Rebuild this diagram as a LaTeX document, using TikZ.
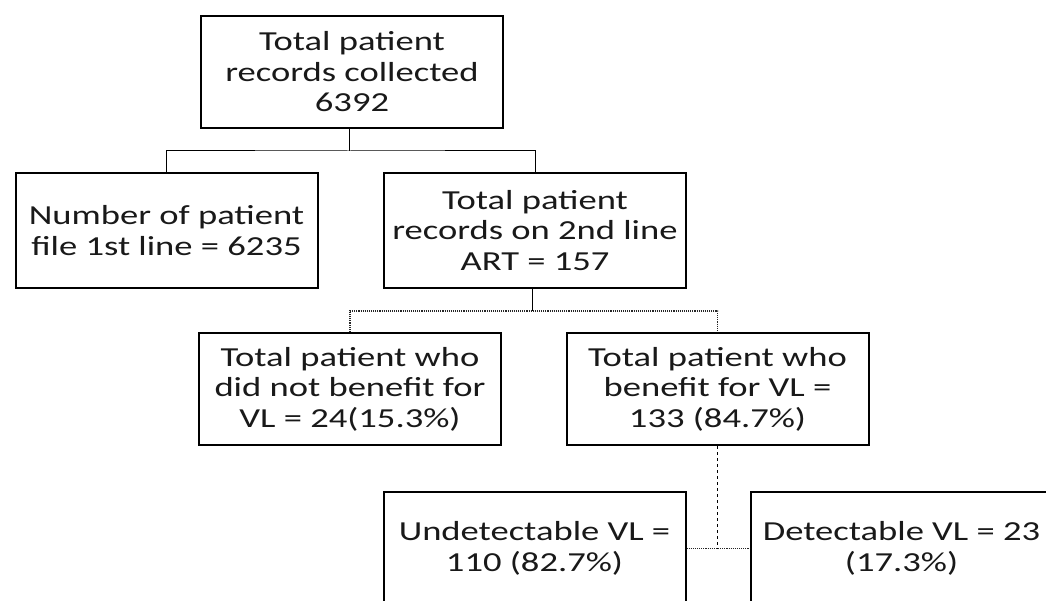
\documentclass[tikz,border=0pt]{standalone}
\usepackage{fontspec}
\setmainfont[FakeStretch=1.33]{Carlito}
\begin{document}
\begin{tikzpicture}[x=1pt,y=-1pt,
  boxnode/.style={draw=black, line width=2pt, fill=white, minimum width=302pt, minimum height=112pt,
    inner sep=0pt, align=center, font=\fontsize{27.5}{30.5}\selectfont, text=black!90},
  conn/.style={draw=black, line width=1pt},
  dotconn/.style={draw=black!85, line width=1.1pt, densely dotted},
  dashconn/.style={draw=black, line width=1pt, dashed}]
\clip (0,0) rectangle (1046,601);
\fill[white] (0,0) rectangle (1046,601);

\node[boxnode] (A) at (352,72) {Total patient\\records collected\\6392};
\node[boxnode, minimum height=115pt] (B) at (166.5,230.5) {Number of patient\\file 1st line = 6235};
\node[boxnode, minimum height=115pt] (C) at (535,230.5) {Total patient\\records on 2nd line\\ART = 157};
\node[boxnode] (D) at (350,389) {Total patient who\\did not benefit for\\VL = 24(15.3\%)};
\node[boxnode] (E) at (717.5,389) {Total patient who\\benefit for VL =\\133 (84.7\%)};
\node[boxnode, minimum height=113pt] (F) at (534.5,548.5) {Undetectable VL =\\110 (82.7\%)};
\node[boxnode, minimum height=113pt] (G) at (901.5,548.5) {Detectable VL = 23\\(17.3\%)};

\coordinate (j1) at (349,151);
\coordinate (j2) at (532,311);

\draw[conn] ([xshift=-3pt]A.south) -- (j1);
\draw[conn] (B.north) |- (j1) -| (C.north);
\draw[conn] ([xshift=-3pt]C.south) -- (j2);
\draw[dotconn] (D.north) |- (j2) -| (E.north);
\draw[dashconn] (E.south) -- (E.south |- F.east);
\draw[dotconn] (F.east) -- (G.west);
\end{tikzpicture}
\end{document}
